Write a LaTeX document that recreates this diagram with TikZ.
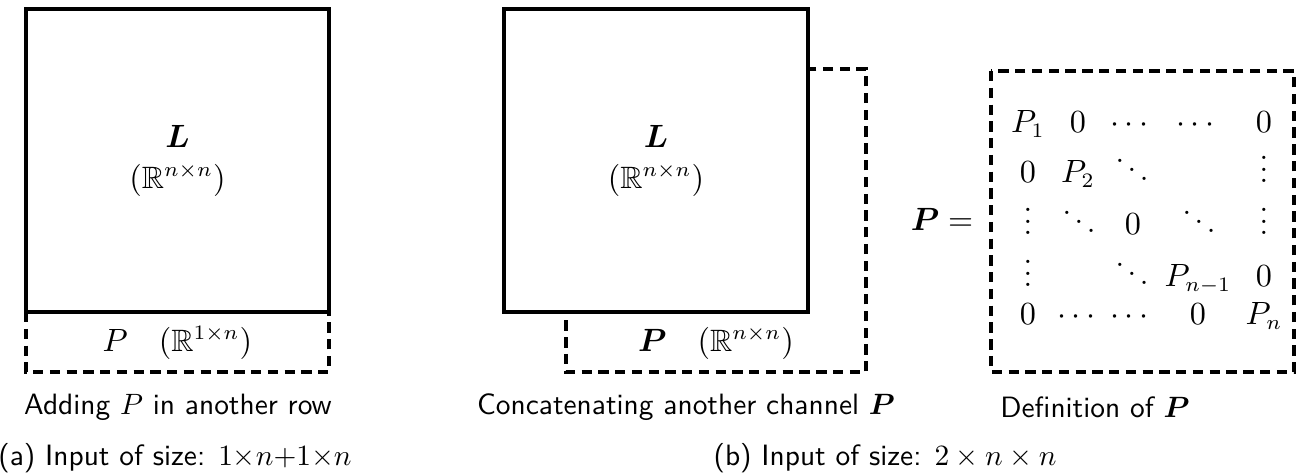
\documentclass[tikz,border=0pt]{standalone}
\usepackage{amsmath,amssymb,bm}
\begin{document}
\begin{tikzpicture}[x=0.34pt,y=-0.34pt,
  solidbox/.style={draw, line width=1.1pt, fill=white},
  dashbox/.style={draw, line width=1.1pt, dash pattern=on 3.5pt off 2.2pt},
  captext/.style={font=\sffamily, inner sep=0pt},
  lbl/.style={inner sep=0pt, align=center, font=\fontsize{10.5}{13}\selectfont},
  ent/.style={anchor=base, inner sep=0pt, text height=6pt, text depth=1.5pt, font=\fontsize{10.5}{13}\selectfont}]
\useasboundingbox (0,0) rectangle (1306,475);
% (a)
\draw[dashbox] (26,312) rectangle (329,372);
\draw[solidbox] (26,9) rectangle (329,312);
\node[lbl] (La) at (177.5,161) {$\bm{L}$\\[1pt]$(\mathbb{R}^{n\times n})$};
\node[lbl] (Pa) at (177.5,343) {$P\quad(\mathbb{R}^{1\times n})$};
\node[captext] (capa) at (178,407) {Adding $P$ in another row};
\node[captext] (suba) at (175,458) {(a) Input of size: $1{\times}n{+}1{\times}n$};
% (b)
\draw[dashbox] (566,69) rectangle (866,372);
\draw[solidbox] (504,9) rectangle (808,312);
\node[lbl] (Lb) at (656,161) {$\bm{L}$\\[1pt]$(\mathbb{R}^{n\times n})$};
\node[lbl] (Pb) at (716,343) {$\bm{P}\quad(\mathbb{R}^{n\times n})$};
\node[captext] (capb) at (686,407) {Concatenating another channel $\bm{P}$};
\node[captext] (capc) at (1095,407) {Definition of $\bm{P}$};
\node[captext] (subb) at (885,458) {(b) Input of size: $2\times n\times n$};
% matrix
\draw[dashbox] (991,71) rectangle (1294,372);
\node[lbl] (Peq) at (942,219) {$\bm{P}=$};
% row 1
\node[ent] (m11) at (1028,133) {$P_1$};
\node[ent] (m12) at (1078,133) {$0$};
\node[ent] (m13) at (1132,133) {$\cdots$};
\node[ent] (m14) at (1198,133) {$\cdots$};
\node[ent] (m15) at (1264,133) {$0$};
% row 2
\node[ent] (m21) at (1028,183) {$0$};
\node[ent] (m22) at (1078,183) {$P_2$};
\node[ent] (m23) at (1132,183) {$\ddots$};
\node[ent] (m25) at (1264,183) {$\vdots$};
% row 3
\node[ent] (m31) at (1028,235) {$\vdots$};
\node[ent] (m32) at (1079,235) {$\ddots$};
\node[ent] (m33) at (1133,235) {$0$};
\node[ent] (m34) at (1199,235) {$\ddots$};
\node[ent] (m35) at (1264,235) {$\vdots$};
% row 4
\node[ent] (m41) at (1028,287) {$\vdots$};
\node[ent] (m43) at (1132,287) {$\ddots$};
\node[ent] (m44) at (1198,287) {$P_{n-1}$};
\node[ent] (m45) at (1264,287) {$0$};
% row 5
\node[ent] (m51) at (1028,325) {$0$};
\node[ent] (m52) at (1079,325) {$\cdots$};
\node[ent] (m53) at (1132,325) {$\cdots$};
\node[ent] (m54) at (1198,325) {$0$};
\node[ent] (m55) at (1264,325) {$P_n$};
\end{tikzpicture}
\end{document}
